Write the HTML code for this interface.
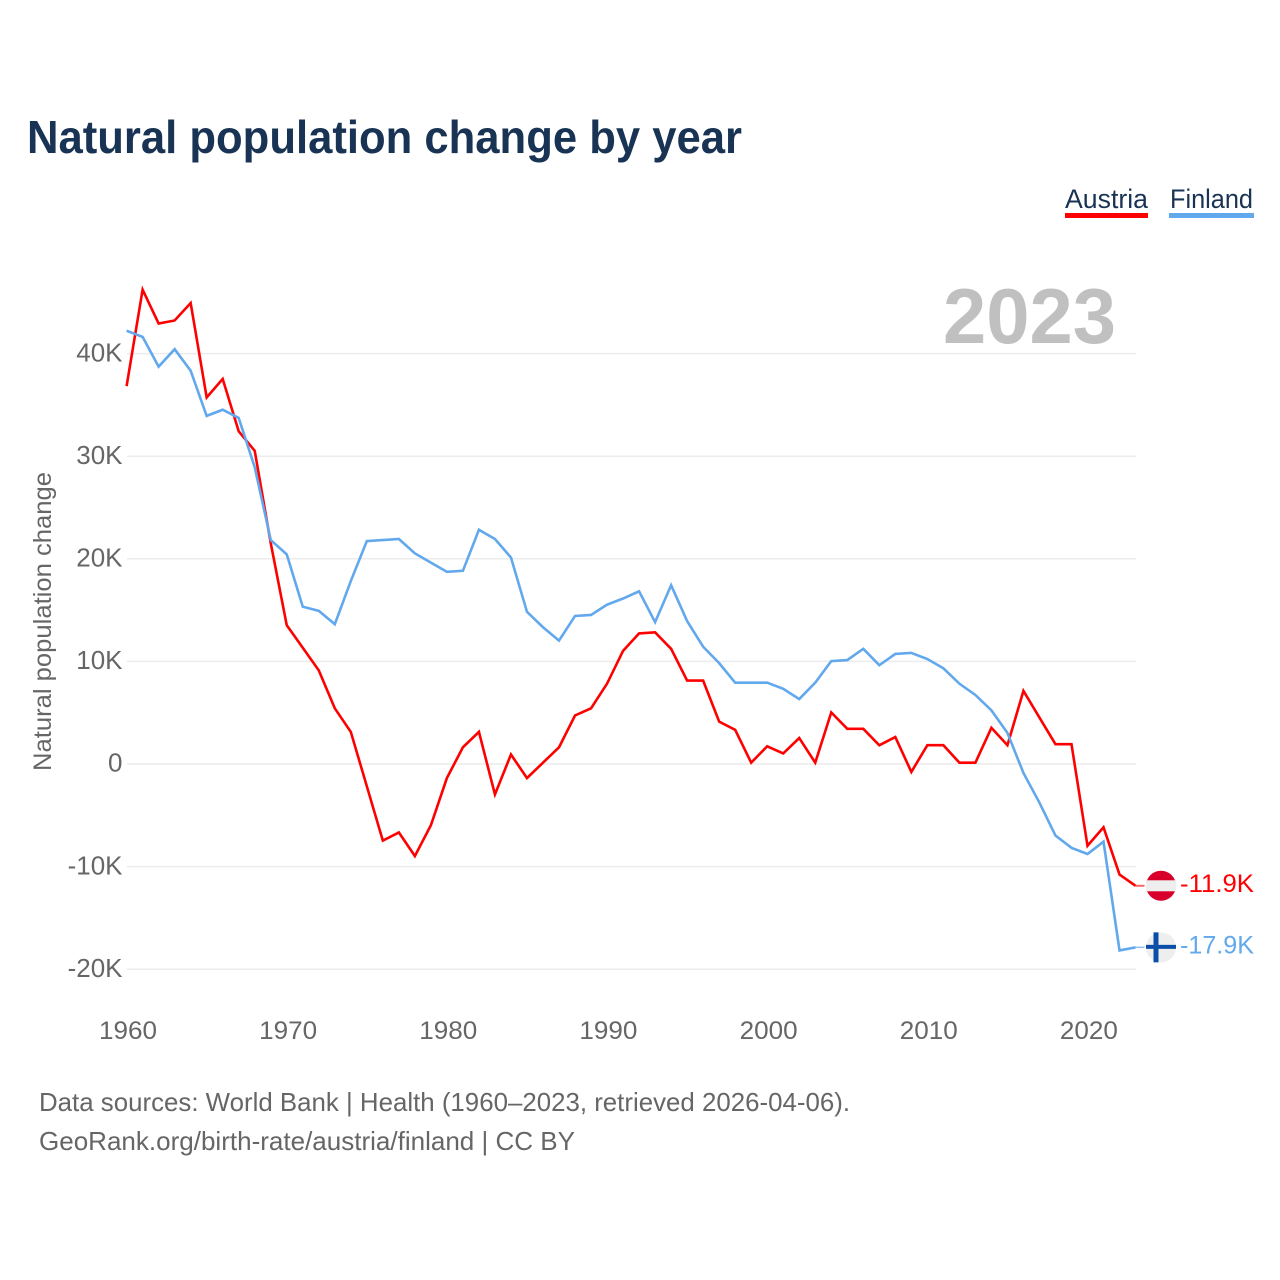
<!DOCTYPE html>
<html lang="en">
<head>
<meta charset="utf-8">
<title>Natural population change by year</title>
<style>
html,body{margin:0;padding:0;background:#fff}
svg{display:block}
text{font-family:"Liberation Sans",sans-serif}
</style>
</head>
<body>
<svg id="chart" xmlns="http://www.w3.org/2000/svg" width="1280" height="1280" viewBox="0 0 1280 1280">
  <text x="27" y="153" font-size="46" font-weight="700" fill="#183353" textLength="715" lengthAdjust="spacingAndGlyphs">Natural population change by year</text>

  <g>
    <text x="1065" y="208" font-size="27" fill="#183353" textLength="83" lengthAdjust="spacingAndGlyphs">Austria</text>
    <rect x="1065" y="213" width="83" height="5" fill="#ff0000"/>
  </g>
  <g>
    <text x="1170" y="208" font-size="27" fill="#183353" textLength="83" lengthAdjust="spacingAndGlyphs">Finland</text>
    <rect x="1169" y="213" width="85" height="5" fill="#62a8ec"/>
  </g>

  <g id="grid"></g>
  <g id="y-ticks"></g>
  <g id="x-ticks"></g>

  <text x="943" y="343" font-size="78" font-weight="700" fill="#c0c0c0" textLength="173" lengthAdjust="spacingAndGlyphs">2023</text>

  <text transform="translate(51,771) rotate(-90)" font-size="25" fill="#666666" textLength="299" lengthAdjust="spacingAndGlyphs">Natural population change</text>

  <g id="series"></g>
  <g id="ends"></g>

  <text x="39" y="1111" font-size="26" fill="#666666" textLength="811" lengthAdjust="spacingAndGlyphs">Data sources: World Bank | Health (1960–2023, retrieved 2026-04-06).</text>
  <text x="39" y="1150" font-size="26" fill="#666666" textLength="536" lengthAdjust="spacingAndGlyphs">GeoRank.org/birth-rate/austria/finland | CC BY</text>
</svg>

<script>
const firstYear = 1960;
const austria = [36.8,46.2,42.9,43.2,44.9,35.7,37.5,32.4,30.5,21.5,13.5,11.3,9.1,5.4,3.1,-2.2,-7.5,-6.7,-9.0,-6.0,-1.4,1.6,3.1,-3.0,0.9,-1.4,0.1,1.6,4.7,5.4,7.8,11.0,12.7,12.8,11.2,8.1,8.1,4.1,3.3,0.1,1.7,1.0,2.5,0.1,5.0,3.4,3.4,1.8,2.6,-0.8,1.8,1.8,0.1,0.1,3.5,1.8,7.1,4.5,1.9,1.9,-8.0,-6.2,-10.8,-11.9];
const finland = [42.2,41.6,38.7,40.4,38.3,33.9,34.5,33.7,28.9,21.8,20.4,15.3,14.9,13.6,17.8,21.7,21.8,21.9,20.5,19.6,18.7,18.8,22.8,21.9,20.1,14.8,13.3,12.0,14.4,14.5,15.5,16.1,16.8,13.8,17.4,13.9,11.4,9.8,7.9,7.9,7.9,7.3,6.3,7.9,10.0,10.1,11.2,9.6,10.7,10.8,10.2,9.3,7.8,6.7,5.2,3.0,-0.9,-3.8,-7.0,-8.2,-8.8,-7.6,-18.2,-17.9];
const yTickValues = [40,30,20,10,0,-10,-20];
const yTickLabels = ["40K","30K","20K","10K","0","-10K","-20K"];
const xTickValues = [1960,1970,1980,1990,2000,2010,2020];
const xTickLabels = ["1960","1970","1980","1990","2000","2010","2020"];

const NS = "http://www.w3.org/2000/svg";
function xScale(year){ return 126.6 + (year - 1960) * 16.015; }
function yScale(k){ return 763.7 - k * 10.26; }
function mk(parent, tag, attrs, text){
  const el = document.createElementNS(NS, tag);
  for (const key in attrs) el.setAttribute(key, attrs[key]);
  if (text !== undefined) el.textContent = text;
  parent.appendChild(el);
  return el;
}

const grid = document.getElementById("grid");
const yTicks = document.getElementById("y-ticks");
const xTicks = document.getElementById("x-ticks");
const series = document.getElementById("series");
const ends = document.getElementById("ends");

yTickValues.forEach(function(v, i){
  const line = mk(grid, "line", {x1: 127, x2: 1136, y1: yScale(v) + 0.3, y2: yScale(v) + 0.3, stroke: "#ececec", "stroke-width": 1.5});
  
  
  const label = mk(yTicks, "text", {x: 122.5, y: yScale(v) + 8, "text-anchor": "end", "font-size": 26, fill: "#666666"}, yTickLabels[i]);
  
  
});

xTickValues.forEach(function(v, i){
  const label = mk(xTicks, "text", {x: xScale(v) + 1.4, y: 1039, "text-anchor": "middle", "font-size": 25, fill: "#666666", textLength: 58, lengthAdjust: "spacingAndGlyphs"}, xTickLabels[i]);
  
  
});

function pathFor(values){
  return values.map(function(v, i){
    return (i ? "L" : "M") + xScale(firstYear + i).toFixed(2) + " " + yScale(v).toFixed(2);
  }).join(" ");
}

const austriaLine = mk(series, "path", {d: pathFor(austria), fill: "none", stroke: "#ff0000", "stroke-width": 2.6, "stroke-linejoin": "miter"});


const finlandLine = mk(series, "path", {d: pathFor(finland), fill: "none", stroke: "#62a8ec", "stroke-width": 2.6, "stroke-linejoin": "miter"});



// End-of-series markers follow the last value of each series.
const lastA = austria[austria.length - 1];
const lastF = finland[finland.length - 1];
const lastAY = yScale(lastA);
const lastFY = yScale(lastF) - 1;
const endX = xScale(firstYear + austria.length - 1);

const stubA = mk(ends, "line", {x1: endX, x2: endX + 9, y1: yScale(lastA), y2: yScale(lastA), stroke: "#ff6666", "stroke-width": 2});


const stubF = mk(ends, "line", {x1: endX, x2: endX + 9, y1: yScale(lastF), y2: yScale(lastF), stroke: "#8fc0f0", "stroke-width": 1.5});



const flagA = mk(ends, "g", {});


mk(flagA, "circle", {cx: 1161, cy: lastAY, r: 15, fill: "#d8002a"});
mk(flagA, "rect", {x: 1146, y: lastAY - 5.5, width: 30, height: 11, fill: "#eeeeee"});

const flagF = mk(ends, "g", {});


mk(flagF, "circle", {cx: 1161, cy: lastFY + 1, r: 15, fill: "#eeeeee"});
mk(flagF, "rect", {x: 1146, y: lastFY - 1.5, width: 30, height: 4, fill: "#0a4ea8"});
mk(flagF, "rect", {x: 1153.5, y: lastFY - 14, width: 5, height: 30, fill: "#0a4ea8"});

function formatK(v){ return v.toFixed(1) + "K"; }
const valA = mk(ends, "text", {x: 1180, y: lastAY + 6, "font-size": 25, fill: "#ff0000", textLength: 74, lengthAdjust: "spacingAndGlyphs"}, formatK(lastA));


const valF = mk(ends, "text", {x: 1180, y: lastFY + 7, "font-size": 25, fill: "#62a8ec", textLength: 74, lengthAdjust: "spacingAndGlyphs"}, formatK(lastF));


</script>
</body>
</html>
